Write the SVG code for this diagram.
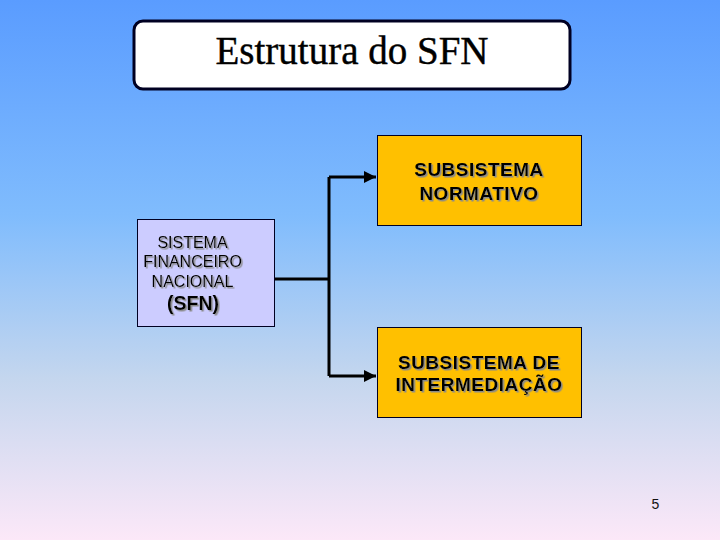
<svg xmlns="http://www.w3.org/2000/svg" width="720" height="540" viewBox="0 0 720 540">
<defs>
<linearGradient id="bg" x1="0" y1="0" x2="0" y2="1">
<stop offset="0" stop-color="#5a9cff"/>
<stop offset="0.4" stop-color="#80bcfd"/>
<stop offset="0.7" stop-color="#c4d6ee"/>
<stop offset="1" stop-color="#fce8f8"/>
</linearGradient>
<filter id="sh" x="-10%" y="-20%" width="120%" height="140%">
<feDropShadow dx="1.5" dy="1.5" stdDeviation="0.4" flood-color="#8a8a8a" flood-opacity="1"/>
</filter>
<marker id="arr" viewBox="0 0 10 10" refX="10" refY="5" markerWidth="4" markerHeight="4" orient="auto" markerUnits="strokeWidth">
<path d="M0,0 L10,5 L0,10 z" fill="#000"/>
</marker>
</defs>
<style>
.box{stroke:#000022;stroke-width:1}
.yl{fill:#ffc000}
.t{font-family:"Liberation Sans",Arial,sans-serif;text-anchor:middle;fill:#000}
.b{font-weight:bold;font-size:19px;letter-spacing:0.5px}
.r{font-size:16px}
.conn{fill:none;stroke:#000;stroke-width:3}
</style>
<rect x="0" y="0" width="720" height="540" fill="url(#bg)"/>
<g id="title">
<rect x="134" y="21" width="436" height="68" rx="9" fill="#fff" stroke="#000022" stroke-width="3"/>
<text x="352" y="64" style="font-family:'Liberation Serif','Times New Roman',serif;font-size:39px;text-anchor:middle;fill:#000;stroke:#000;stroke-width:0.4">Estrutura do SFN</text>
</g>
<g id="connectors">
<path class="conn" d="M275,279 H329 M329,177 V376"/>
<path class="conn" d="M329,177 H376" marker-end="url(#arr)"/>
<path class="conn" d="M329,376 H376" marker-end="url(#arr)"/>
</g>
<g id="sfn">
<rect class="box" x="137.5" y="219.5" width="137" height="107" fill="#ccccff"/>
<g filter="url(#sh)">
<text class="t r" x="192.5" y="248">SISTEMA</text>
<text class="t r" x="192.5" y="267">FINANCEIRO</text>
<text class="t r" x="192.5" y="286.5">NACIONAL</text>
<text class="t" x="193" y="310" style="font-size:19.5px;font-weight:bold">(SFN)</text>
</g>
</g>
<g id="normativo">
<rect class="box yl" x="377.5" y="135.5" width="204" height="90"/>
<g filter="url(#sh)">
<text class="t b" x="479" y="176">SUBSISTEMA</text>
<text class="t b" x="479" y="199.5">NORMATIVO</text>
</g>
</g>
<g id="intermediacao">
<rect class="box yl" x="377.5" y="327.5" width="204" height="90"/>
<g filter="url(#sh)">
<text class="t b" x="479" y="368.5">SUBSISTEMA DE</text>
<text class="t b" x="479" y="391">INTERMEDIAÇÃO</text>
</g>
</g>
<text x="655.5" y="509" style="font-family:'Liberation Sans',Arial,sans-serif;font-size:14px;text-anchor:middle;fill:#111">5</text>
</svg>
